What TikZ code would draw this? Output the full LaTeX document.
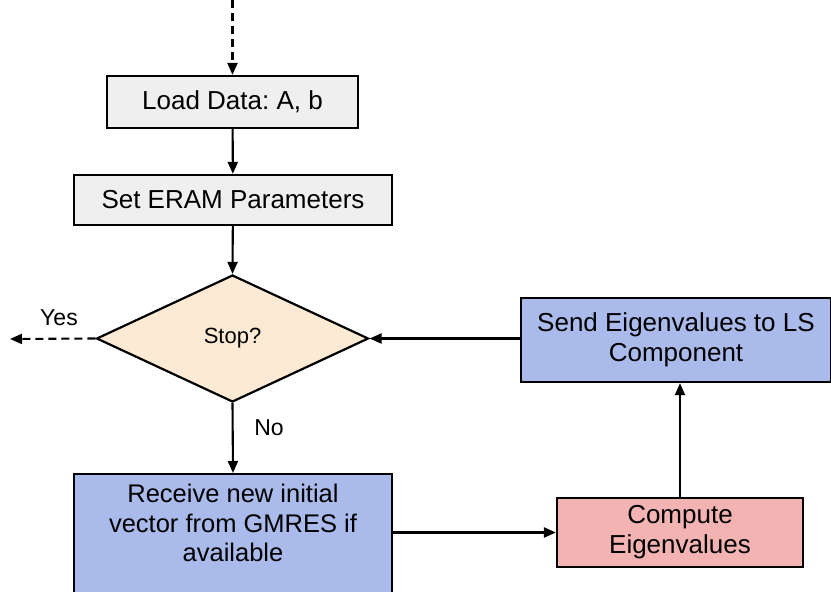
\documentclass[tikz,border=0pt]{standalone}
\usepackage{fontspec}
\setmainfont{Liberation Sans}
\usetikzlibrary{shapes.geometric,arrows.meta}
\definecolor{boxgray}{HTML}{EFEFEF}
\definecolor{peach}{HTML}{FDEAD5}
\definecolor{lblue}{HTML}{A9BAEB}
\definecolor{lpink}{HTML}{F3B3B3}
\tikzset{
  procbox/.style={draw=black, line width=2.2pt, rectangle, inner sep=0pt, align=center,
    font=\fontsize{26}{30}\selectfont},
  arr/.style={line width=2.1pt, -{Triangle[length=12pt,width=10pt]}},
  darr/.style={arr, dash pattern=on 8pt off 5pt},
  lbl/.style={font=\fontsize{23}{27}\selectfont, inner sep=0pt},
}
\begin{document}
\frenchspacing
\begin{tikzpicture}[x=1pt,y=-1pt]
\useasboundingbox (0,0) rectangle (831,592);
\node[procbox, fill=boxgray, minimum width=251pt, minimum height=52pt] (load) at (232.5,102) {Load Data: A, b};
\node[procbox, fill=boxgray, minimum width=318pt, minimum height=50pt] (set) at (233,200) {Set ERAM Parameters};
\node[draw=black, line width=2.2pt, diamond, fill=peach, aspect=2.14, minimum width=272pt, minimum height=127pt, inner sep=0pt,
  font=\fontsize{22}{26}\selectfont] (dia) at (232.5,338.5) {Stop?};
\node[procbox, fill=lblue, minimum width=310pt, minimum height=84pt] (send) at (676,340) {Send Eigenvalues to LS\\Component};
\node[procbox, fill=lpink, minimum width=246pt, minimum height=69pt] (comp) at (680,532.5) {Compute\\Eigenvalues};
\node[procbox, fill=lblue, minimum width=318pt, minimum height=140pt, anchor=north] (recv) at (233,473) {};
\node[align=center, inner sep=0pt, font=\fontsize{25.5}{29.5}\selectfont] (recvtxt) at (233,523) {Receive new initial\\vector from GMRES if\\available};
\node[lbl] (yes) at (59,318) {Yes};
\node[lbl] (no) at (269,428) {No};
\coordinate (top) at (232.5,0);
\coordinate (yesend) at (10,339);
\draw[darr] (top) -- (load.north);
\draw[arr] (load) -- (set);
\draw[arr] (set) -- (dia.north);
\draw[darr] (dia.west) -- (yesend);
\draw[arr] (dia.south) -- (recv.north);
\draw[arr] (recv.east |- comp.west) -- (comp.west);
\draw[arr] (comp.north) -- (comp.north |- send.south);
\draw[arr] (send.west |- dia.east) -- (dia.east);
\end{tikzpicture}
\end{document}
